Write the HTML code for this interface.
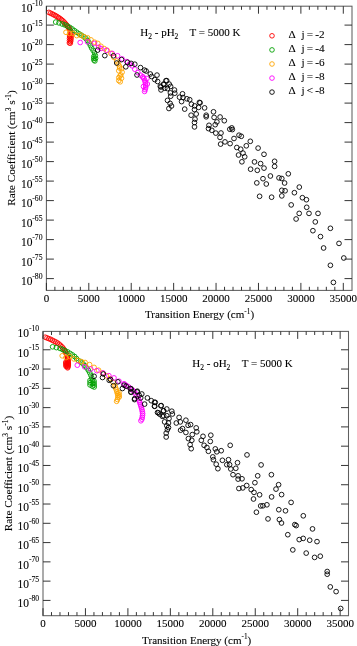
<!DOCTYPE html>
<html><head><meta charset="utf-8"><style>
html,body{margin:0;padding:0;background:#fff;}
body{width:357px;height:646px;overflow:hidden;}
svg{display:block;font-family:"Liberation Serif",serif;will-change:transform;}
text{fill:#000;stroke:#000;stroke-width:0.1px;}
</style></head><body>
<svg width="357" height="646" viewBox="0 0 357 646">
<g fill="none" stroke-width="0.9">
<circle cx="48.90" cy="12.40" r="2.35" stroke="#ff0000" stroke-width="0.9"/>
<circle cx="50.53" cy="13.16" r="2.35" stroke="#ff0000" stroke-width="0.9"/>
<circle cx="52.16" cy="13.93" r="2.35" stroke="#ff0000" stroke-width="0.9"/>
<circle cx="53.76" cy="14.75" r="2.35" stroke="#ff0000" stroke-width="0.9"/>
<circle cx="55.36" cy="15.57" r="2.35" stroke="#ff0000" stroke-width="0.9"/>
<circle cx="56.90" cy="16.51" r="2.35" stroke="#ff0000" stroke-width="0.9"/>
<circle cx="58.42" cy="17.48" r="2.35" stroke="#ff0000" stroke-width="0.9"/>
<circle cx="59.91" cy="18.47" r="2.35" stroke="#ff0000" stroke-width="0.9"/>
<circle cx="61.32" cy="19.60" r="2.35" stroke="#ff0000" stroke-width="0.9"/>
<circle cx="62.72" cy="20.72" r="2.35" stroke="#ff0000" stroke-width="0.9"/>
<circle cx="63.97" cy="22.02" r="2.35" stroke="#ff0000" stroke-width="0.9"/>
<circle cx="65.21" cy="23.33" r="2.35" stroke="#ff0000" stroke-width="0.9"/>
<circle cx="66.36" cy="24.71" r="2.35" stroke="#ff0000" stroke-width="0.9"/>
<circle cx="67.49" cy="26.11" r="2.35" stroke="#ff0000" stroke-width="0.9"/>
<circle cx="68.58" cy="27.54" r="2.35" stroke="#ff0000" stroke-width="0.9"/>
<circle cx="69.51" cy="29.08" r="2.35" stroke="#ff0000" stroke-width="0.9"/>
<circle cx="70.33" cy="30.68" r="2.35" stroke="#ff0000" stroke-width="0.9"/>
<circle cx="70.71" cy="32.42" r="2.35" stroke="#ff0000" stroke-width="0.9"/>
<circle cx="70.97" cy="34.20" r="2.35" stroke="#ff0000" stroke-width="0.9"/>
<circle cx="71.00" cy="36.00" r="2.35" stroke="#ff0000" stroke-width="0.9"/>
<circle cx="71.00" cy="37.80" r="2.35" stroke="#ff0000" stroke-width="0.9"/>
<circle cx="70.85" cy="39.59" r="2.35" stroke="#ff0000" stroke-width="0.9"/>
<circle cx="70.62" cy="41.38" r="2.35" stroke="#ff0000" stroke-width="0.9"/>
<circle cx="70.32" cy="43.15" r="2.35" stroke="#ff0000" stroke-width="0.9"/>
<circle cx="69.60" cy="36.00" r="2.35" stroke="#ff0000" stroke-width="0.9"/>
<circle cx="69.53" cy="38.30" r="2.35" stroke="#ff0000" stroke-width="0.9"/>
<circle cx="69.47" cy="40.60" r="2.35" stroke="#ff0000" stroke-width="0.9"/>
<circle cx="69.40" cy="42.90" r="2.35" stroke="#ff0000" stroke-width="0.9"/>
<circle cx="55.70" cy="22.10" r="2.35" stroke="#00a000"/>
<circle cx="59.00" cy="22.90" r="2.35" stroke="#00a000"/>
<circle cx="62.20" cy="24.00" r="2.35" stroke="#00a000" stroke-width="0.9"/>
<circle cx="64.84" cy="24.94" r="2.35" stroke="#00a000" stroke-width="0.9"/>
<circle cx="67.38" cy="26.11" r="2.35" stroke="#00a000" stroke-width="0.9"/>
<circle cx="69.86" cy="27.40" r="2.35" stroke="#00a000" stroke-width="0.9"/>
<circle cx="72.17" cy="28.98" r="2.35" stroke="#00a000" stroke-width="0.9"/>
<circle cx="74.42" cy="30.65" r="2.35" stroke="#00a000" stroke-width="0.9"/>
<circle cx="76.72" cy="32.24" r="2.35" stroke="#00a000" stroke-width="0.9"/>
<circle cx="79.05" cy="33.79" r="2.35" stroke="#00a000" stroke-width="0.9"/>
<circle cx="81.46" cy="35.22" r="2.35" stroke="#00a000" stroke-width="0.9"/>
<circle cx="83.74" cy="36.83" r="2.35" stroke="#00a000" stroke-width="0.9"/>
<circle cx="85.92" cy="38.59" r="2.35" stroke="#00a000" stroke-width="0.9"/>
<circle cx="87.79" cy="40.64" r="2.35" stroke="#00a000" stroke-width="0.9"/>
<circle cx="89.19" cy="43.05" r="2.35" stroke="#00a000" stroke-width="0.9"/>
<circle cx="90.39" cy="45.58" r="2.35" stroke="#00a000" stroke-width="0.9"/>
<circle cx="91.64" cy="48.08" r="2.35" stroke="#00a000" stroke-width="0.9"/>
<circle cx="93.15" cy="50.44" r="2.35" stroke="#00a000" stroke-width="0.9"/>
<circle cx="94.54" cy="52.86" r="2.35" stroke="#00a000" stroke-width="0.9"/>
<circle cx="95.34" cy="55.54" r="2.35" stroke="#00a000" stroke-width="0.9"/>
<circle cx="95.58" cy="58.25" r="2.35" stroke="#00a000" stroke-width="0.9"/>
<circle cx="94.87" cy="60.94" r="2.35" stroke="#00a000" stroke-width="0.9"/>
<circle cx="93.80" cy="56.50" r="2.35" stroke="#00a000" stroke-width="0.9"/>
<circle cx="93.87" cy="58.30" r="2.35" stroke="#00a000" stroke-width="0.9"/>
<circle cx="93.94" cy="60.10" r="2.35" stroke="#00a000" stroke-width="0.9"/>
<circle cx="66.00" cy="32.30" r="2.35" stroke="#ffa500"/>
<circle cx="69.60" cy="33.40" r="2.35" stroke="#ffa500"/>
<circle cx="73.20" cy="33.40" r="2.35" stroke="#ffa500"/>
<circle cx="76.70" cy="35.60" r="2.35" stroke="#ffa500"/>
<circle cx="80.50" cy="35.10" r="2.35" stroke="#ffa500"/>
<circle cx="83.90" cy="36.60" r="2.35" stroke="#ffa500"/>
<circle cx="87.60" cy="37.80" r="2.35" stroke="#ffa500"/>
<circle cx="91.00" cy="39.90" r="2.35" stroke="#ffa500"/>
<circle cx="94.60" cy="42.20" r="2.35" stroke="#ffa500"/>
<circle cx="97.80" cy="43.40" r="2.35" stroke="#ffa500"/>
<circle cx="101.00" cy="46.30" r="2.35" stroke="#ffa500"/>
<circle cx="104.20" cy="48.60" r="2.35" stroke="#ffa500"/>
<circle cx="107.20" cy="50.30" r="2.35" stroke="#ffa500"/>
<circle cx="110.90" cy="53.40" r="2.35" stroke="#ffa500"/>
<circle cx="114.00" cy="57.40" r="2.35" stroke="#ffa500"/>
<circle cx="116.60" cy="61.00" r="2.35" stroke="#ffa500"/>
<circle cx="118.20" cy="63.80" r="2.35" stroke="#ffa500"/>
<circle cx="119.40" cy="66.10" r="2.35" stroke="#ffa500"/>
<circle cx="121.50" cy="68.80" r="2.35" stroke="#ffa500"/>
<circle cx="118.80" cy="70.80" r="2.35" stroke="#ffa500"/>
<circle cx="122.10" cy="72.20" r="2.35" stroke="#ffa500"/>
<circle cx="120.80" cy="74.90" r="2.35" stroke="#ffa500"/>
<circle cx="118.80" cy="77.60" r="2.35" stroke="#ffa500"/>
<circle cx="121.50" cy="78.20" r="2.35" stroke="#ffa500"/>
<circle cx="118.80" cy="80.60" r="2.35" stroke="#ffa500"/>
<circle cx="120.20" cy="81.80" r="2.35" stroke="#ffa500"/>
<circle cx="119.60" cy="68.00" r="2.35" stroke="#ffa500"/>
<circle cx="120.00" cy="76.00" r="2.35" stroke="#ffa500"/>
<circle cx="80.20" cy="42.50" r="2.35" stroke="#ff00ff"/>
<circle cx="87.50" cy="41.80" r="2.35" stroke="#ff00ff"/>
<circle cx="94.30" cy="43.40" r="2.35" stroke="#ff00ff"/>
<circle cx="98.60" cy="47.30" r="2.35" stroke="#ff00ff"/>
<circle cx="101.00" cy="48.50" r="2.35" stroke="#ff00ff"/>
<circle cx="106.40" cy="50.30" r="2.35" stroke="#ff00ff"/>
<circle cx="112.20" cy="53.40" r="2.35" stroke="#ff00ff"/>
<circle cx="117.60" cy="55.80" r="2.35" stroke="#ff00ff"/>
<circle cx="122.10" cy="58.90" r="2.35" stroke="#ff00ff"/>
<circle cx="126.80" cy="61.60" r="2.35" stroke="#ff00ff"/>
<circle cx="129.50" cy="64.10" r="2.35" stroke="#ff00ff"/>
<circle cx="132.20" cy="65.80" r="2.35" stroke="#ff00ff"/>
<circle cx="134.80" cy="69.20" r="2.35" stroke="#ff00ff"/>
<circle cx="137.80" cy="72.60" r="2.35" stroke="#ff00ff"/>
<circle cx="140.60" cy="75.20" r="2.35" stroke="#ff00ff"/>
<circle cx="142.90" cy="77.00" r="2.35" stroke="#ff00ff"/>
<circle cx="142.90" cy="77.00" r="2.35" stroke="#ff00ff" stroke-width="0.9"/>
<circle cx="143.94" cy="78.59" r="2.35" stroke="#ff00ff" stroke-width="0.9"/>
<circle cx="144.77" cy="80.27" r="2.35" stroke="#ff00ff" stroke-width="0.9"/>
<circle cx="145.23" cy="82.12" r="2.35" stroke="#ff00ff" stroke-width="0.9"/>
<circle cx="145.53" cy="83.99" r="2.35" stroke="#ff00ff" stroke-width="0.9"/>
<circle cx="145.68" cy="85.88" r="2.35" stroke="#ff00ff" stroke-width="0.9"/>
<circle cx="145.61" cy="87.78" r="2.35" stroke="#ff00ff" stroke-width="0.9"/>
<circle cx="145.09" cy="89.60" r="2.35" stroke="#ff00ff" stroke-width="0.9"/>
<circle cx="144.59" cy="91.43" r="2.35" stroke="#ff00ff" stroke-width="0.9"/>
<circle cx="146.90" cy="78.50" r="2.35" stroke="#ff00ff"/>
<circle cx="147.30" cy="84.00" r="2.35" stroke="#ff00ff"/>
<circle cx="143.50" cy="86.50" r="2.35" stroke="#ff00ff"/>
<circle cx="97.60" cy="50.10" r="2.35" stroke="#000000"/>
<circle cx="104.80" cy="55.60" r="2.35" stroke="#000000"/>
<circle cx="113.50" cy="55.80" r="2.35" stroke="#000000"/>
<circle cx="116.70" cy="63.00" r="2.35" stroke="#000000"/>
<circle cx="121.50" cy="59.60" r="2.35" stroke="#000000"/>
<circle cx="125.80" cy="66.80" r="2.35" stroke="#000000"/>
<circle cx="127.50" cy="62.30" r="2.35" stroke="#000000"/>
<circle cx="131.10" cy="63.40" r="2.35" stroke="#000000"/>
<circle cx="134.80" cy="64.20" r="2.35" stroke="#000000"/>
<circle cx="137.00" cy="75.00" r="2.35" stroke="#000000"/>
<circle cx="140.50" cy="67.60" r="2.35" stroke="#000000"/>
<circle cx="144.40" cy="70.10" r="2.35" stroke="#000000"/>
<circle cx="146.10" cy="71.00" r="2.35" stroke="#000000"/>
<circle cx="150.30" cy="74.00" r="2.35" stroke="#000000"/>
<circle cx="151.70" cy="76.50" r="2.35" stroke="#000000"/>
<circle cx="157.00" cy="75.10" r="2.35" stroke="#000000"/>
<circle cx="154.80" cy="79.60" r="2.35" stroke="#000000"/>
<circle cx="157.60" cy="81.50" r="2.35" stroke="#000000"/>
<circle cx="166.70" cy="80.60" r="2.35" stroke="#000000"/>
<circle cx="163.90" cy="84.60" r="2.35" stroke="#000000"/>
<circle cx="161.00" cy="87.00" r="2.35" stroke="#000000"/>
<circle cx="164.80" cy="88.20" r="2.35" stroke="#000000"/>
<circle cx="170.60" cy="86.40" r="2.35" stroke="#000000"/>
<circle cx="174.50" cy="90.00" r="2.35" stroke="#000000"/>
<circle cx="170.40" cy="92.90" r="2.35" stroke="#000000"/>
<circle cx="174.80" cy="93.20" r="2.35" stroke="#000000"/>
<circle cx="170.70" cy="96.20" r="2.35" stroke="#000000"/>
<circle cx="167.50" cy="100.40" r="2.35" stroke="#000000"/>
<circle cx="170.10" cy="103.40" r="2.35" stroke="#000000"/>
<circle cx="171.50" cy="106.00" r="2.35" stroke="#000000"/>
<circle cx="168.90" cy="108.50" r="2.35" stroke="#000000"/>
<circle cx="182.50" cy="93.80" r="2.35" stroke="#000000"/>
<circle cx="179.50" cy="97.20" r="2.35" stroke="#000000"/>
<circle cx="183.00" cy="97.50" r="2.35" stroke="#000000"/>
<circle cx="181.60" cy="101.60" r="2.35" stroke="#000000"/>
<circle cx="186.90" cy="98.80" r="2.35" stroke="#000000"/>
<circle cx="189.70" cy="99.70" r="2.35" stroke="#000000"/>
<circle cx="191.40" cy="104.20" r="2.35" stroke="#000000"/>
<circle cx="194.70" cy="105.90" r="2.35" stroke="#000000"/>
<circle cx="199.40" cy="102.40" r="2.35" stroke="#000000"/>
<circle cx="198.60" cy="107.40" r="2.35" stroke="#000000"/>
<circle cx="184.70" cy="109.10" r="2.35" stroke="#000000"/>
<circle cx="161.00" cy="89.90" r="2.35" stroke="#000000"/>
<circle cx="160.30" cy="86.30" r="2.35" stroke="#000000"/>
<circle cx="163.60" cy="84.10" r="2.35" stroke="#000000"/>
<circle cx="165.90" cy="80.70" r="2.35" stroke="#000000"/>
<circle cx="167.50" cy="88.60" r="2.35" stroke="#000000"/>
<circle cx="169.20" cy="84.10" r="2.35" stroke="#000000"/>
<circle cx="194.50" cy="109.60" r="2.35" stroke="#000000"/>
<circle cx="191.10" cy="115.20" r="2.35" stroke="#000000"/>
<circle cx="196.20" cy="114.00" r="2.35" stroke="#000000"/>
<circle cx="195.00" cy="119.10" r="2.35" stroke="#000000"/>
<circle cx="194.50" cy="122.50" r="2.35" stroke="#000000"/>
<circle cx="194.50" cy="126.90" r="2.35" stroke="#000000"/>
<circle cx="206.20" cy="115.20" r="2.35" stroke="#000000"/>
<circle cx="206.20" cy="116.80" r="2.35" stroke="#000000"/>
<circle cx="213.50" cy="111.80" r="2.35" stroke="#000000"/>
<circle cx="214.10" cy="117.40" r="2.35" stroke="#000000"/>
<circle cx="220.10" cy="117.00" r="2.35" stroke="#000000"/>
<circle cx="224.30" cy="120.70" r="2.35" stroke="#000000"/>
<circle cx="216.90" cy="121.90" r="2.35" stroke="#000000"/>
<circle cx="215.20" cy="124.70" r="2.35" stroke="#000000"/>
<circle cx="209.00" cy="125.30" r="2.35" stroke="#000000"/>
<circle cx="208.50" cy="128.60" r="2.35" stroke="#000000"/>
<circle cx="211.80" cy="130.30" r="2.35" stroke="#000000"/>
<circle cx="215.80" cy="133.10" r="2.35" stroke="#000000"/>
<circle cx="221.00" cy="133.00" r="2.35" stroke="#000000"/>
<circle cx="229.80" cy="129.20" r="2.35" stroke="#000000"/>
<circle cx="204.60" cy="107.90" r="2.35" stroke="#000000"/>
<circle cx="200.10" cy="102.80" r="2.35" stroke="#000000"/>
<circle cx="231.80" cy="127.90" r="2.35" stroke="#000000"/>
<circle cx="232.30" cy="129.60" r="2.35" stroke="#000000"/>
<circle cx="220.00" cy="137.40" r="2.35" stroke="#000000"/>
<circle cx="239.00" cy="135.20" r="2.35" stroke="#000000"/>
<circle cx="241.30" cy="136.30" r="2.35" stroke="#000000"/>
<circle cx="234.00" cy="138.50" r="2.35" stroke="#000000"/>
<circle cx="225.00" cy="141.90" r="2.35" stroke="#000000"/>
<circle cx="230.10" cy="143.60" r="2.35" stroke="#000000"/>
<circle cx="220.60" cy="144.10" r="2.35" stroke="#000000"/>
<circle cx="250.30" cy="141.30" r="2.35" stroke="#000000"/>
<circle cx="246.30" cy="145.80" r="2.35" stroke="#000000"/>
<circle cx="236.80" cy="147.50" r="2.35" stroke="#000000"/>
<circle cx="240.70" cy="149.20" r="2.35" stroke="#000000"/>
<circle cx="243.00" cy="153.10" r="2.35" stroke="#000000"/>
<circle cx="238.50" cy="155.00" r="2.35" stroke="#000000"/>
<circle cx="258.10" cy="148.10" r="2.35" stroke="#000000"/>
<circle cx="244.70" cy="156.80" r="2.35" stroke="#000000"/>
<circle cx="241.90" cy="161.80" r="2.35" stroke="#000000"/>
<circle cx="264.00" cy="154.30" r="2.35" stroke="#000000"/>
<circle cx="254.50" cy="161.90" r="2.35" stroke="#000000"/>
<circle cx="260.60" cy="163.60" r="2.35" stroke="#000000"/>
<circle cx="264.00" cy="168.10" r="2.35" stroke="#000000"/>
<circle cx="250.60" cy="169.20" r="2.35" stroke="#000000"/>
<circle cx="257.30" cy="170.30" r="2.35" stroke="#000000"/>
<circle cx="274.60" cy="161.30" r="2.35" stroke="#000000"/>
<circle cx="274.60" cy="166.40" r="2.35" stroke="#000000"/>
<circle cx="270.40" cy="176.00" r="2.35" stroke="#000000"/>
<circle cx="288.30" cy="173.80" r="2.35" stroke="#000000"/>
<circle cx="263.00" cy="178.70" r="2.35" stroke="#000000"/>
<circle cx="256.80" cy="182.90" r="2.35" stroke="#000000"/>
<circle cx="266.30" cy="184.00" r="2.35" stroke="#000000"/>
<circle cx="259.60" cy="196.30" r="2.35" stroke="#000000"/>
<circle cx="271.60" cy="197.20" r="2.35" stroke="#000000"/>
<circle cx="279.00" cy="177.90" r="2.35" stroke="#000000"/>
<circle cx="281.80" cy="178.50" r="2.35" stroke="#000000"/>
<circle cx="284.60" cy="183.00" r="2.35" stroke="#000000"/>
<circle cx="281.80" cy="190.30" r="2.35" stroke="#000000"/>
<circle cx="285.10" cy="190.80" r="2.35" stroke="#000000"/>
<circle cx="281.80" cy="195.90" r="2.35" stroke="#000000"/>
<circle cx="294.40" cy="192.70" r="2.35" stroke="#000000"/>
<circle cx="299.30" cy="187.10" r="2.35" stroke="#000000"/>
<circle cx="302.40" cy="197.70" r="2.35" stroke="#000000"/>
<circle cx="306.40" cy="199.70" r="2.35" stroke="#000000"/>
<circle cx="291.20" cy="204.90" r="2.35" stroke="#000000"/>
<circle cx="306.70" cy="207.30" r="2.35" stroke="#000000"/>
<circle cx="299.20" cy="213.40" r="2.35" stroke="#000000"/>
<circle cx="309.00" cy="213.40" r="2.35" stroke="#000000"/>
<circle cx="318.00" cy="213.40" r="2.35" stroke="#000000"/>
<circle cx="296.10" cy="219.00" r="2.35" stroke="#000000"/>
<circle cx="315.30" cy="221.90" r="2.35" stroke="#000000"/>
<circle cx="312.90" cy="230.70" r="2.35" stroke="#000000"/>
<circle cx="330.40" cy="228.30" r="2.35" stroke="#000000"/>
<circle cx="320.50" cy="236.60" r="2.35" stroke="#000000"/>
<circle cx="339.00" cy="243.40" r="2.35" stroke="#000000"/>
<circle cx="323.60" cy="248.00" r="2.35" stroke="#000000"/>
<circle cx="343.80" cy="258.00" r="2.35" stroke="#000000"/>
<circle cx="330.40" cy="265.30" r="2.35" stroke="#000000"/>
<circle cx="333.40" cy="282.40" r="2.35" stroke="#000000"/>
<circle cx="45.20" cy="337.20" r="2.35" stroke="#ff0000" stroke-width="0.9"/>
<circle cx="47.01" cy="337.91" r="2.35" stroke="#ff0000" stroke-width="0.9"/>
<circle cx="48.83" cy="338.63" r="2.35" stroke="#ff0000" stroke-width="0.9"/>
<circle cx="50.64" cy="339.34" r="2.35" stroke="#ff0000" stroke-width="0.9"/>
<circle cx="52.37" cy="340.24" r="2.35" stroke="#ff0000" stroke-width="0.9"/>
<circle cx="54.11" cy="341.13" r="2.35" stroke="#ff0000" stroke-width="0.9"/>
<circle cx="55.87" cy="341.96" r="2.35" stroke="#ff0000" stroke-width="0.9"/>
<circle cx="57.51" cy="343.00" r="2.35" stroke="#ff0000" stroke-width="0.9"/>
<circle cx="59.10" cy="344.13" r="2.35" stroke="#ff0000" stroke-width="0.9"/>
<circle cx="60.54" cy="345.44" r="2.35" stroke="#ff0000" stroke-width="0.9"/>
<circle cx="61.95" cy="346.79" r="2.35" stroke="#ff0000" stroke-width="0.9"/>
<circle cx="63.18" cy="348.30" r="2.35" stroke="#ff0000" stroke-width="0.9"/>
<circle cx="64.30" cy="349.89" r="2.35" stroke="#ff0000" stroke-width="0.9"/>
<circle cx="65.26" cy="351.59" r="2.35" stroke="#ff0000" stroke-width="0.9"/>
<circle cx="66.09" cy="353.35" r="2.35" stroke="#ff0000" stroke-width="0.9"/>
<circle cx="66.84" cy="355.15" r="2.35" stroke="#ff0000" stroke-width="0.9"/>
<circle cx="67.34" cy="357.03" r="2.35" stroke="#ff0000" stroke-width="0.9"/>
<circle cx="67.60" cy="358.00" r="2.35" stroke="#ff0000" stroke-width="0.9"/>
<circle cx="67.73" cy="358.89" r="2.35" stroke="#ff0000" stroke-width="0.9"/>
<circle cx="67.85" cy="359.78" r="2.35" stroke="#ff0000" stroke-width="0.9"/>
<circle cx="67.98" cy="360.67" r="2.35" stroke="#ff0000" stroke-width="0.9"/>
<circle cx="68.10" cy="361.56" r="2.35" stroke="#ff0000" stroke-width="0.9"/>
<circle cx="68.13" cy="362.46" r="2.35" stroke="#ff0000" stroke-width="0.9"/>
<circle cx="68.15" cy="363.36" r="2.35" stroke="#ff0000" stroke-width="0.9"/>
<circle cx="68.18" cy="364.26" r="2.35" stroke="#ff0000" stroke-width="0.9"/>
<circle cx="68.17" cy="365.16" r="2.35" stroke="#ff0000" stroke-width="0.9"/>
<circle cx="67.99" cy="366.04" r="2.35" stroke="#ff0000" stroke-width="0.9"/>
<circle cx="67.82" cy="366.92" r="2.35" stroke="#ff0000" stroke-width="0.9"/>
<circle cx="67.64" cy="367.81" r="2.35" stroke="#ff0000" stroke-width="0.9"/>
<circle cx="66.00" cy="362.00" r="2.35" stroke="#ff0000" stroke-width="0.9"/>
<circle cx="66.04" cy="362.90" r="2.35" stroke="#ff0000" stroke-width="0.9"/>
<circle cx="66.07" cy="363.80" r="2.35" stroke="#ff0000" stroke-width="0.9"/>
<circle cx="66.11" cy="364.70" r="2.35" stroke="#ff0000" stroke-width="0.9"/>
<circle cx="66.14" cy="365.60" r="2.35" stroke="#ff0000" stroke-width="0.9"/>
<circle cx="66.18" cy="366.50" r="2.35" stroke="#ff0000" stroke-width="0.9"/>
<circle cx="52.60" cy="346.80" r="2.35" stroke="#00a000"/>
<circle cx="56.40" cy="347.60" r="2.35" stroke="#00a000"/>
<circle cx="60.00" cy="348.40" r="2.35" stroke="#00a000" stroke-width="0.9"/>
<circle cx="62.56" cy="349.53" r="2.35" stroke="#00a000" stroke-width="0.9"/>
<circle cx="65.11" cy="350.69" r="2.35" stroke="#00a000" stroke-width="0.9"/>
<circle cx="67.63" cy="351.92" r="2.35" stroke="#00a000" stroke-width="0.9"/>
<circle cx="70.03" cy="353.36" r="2.35" stroke="#00a000" stroke-width="0.9"/>
<circle cx="72.37" cy="354.89" r="2.35" stroke="#00a000" stroke-width="0.9"/>
<circle cx="74.63" cy="356.54" r="2.35" stroke="#00a000" stroke-width="0.9"/>
<circle cx="76.52" cy="358.60" r="2.35" stroke="#00a000" stroke-width="0.9"/>
<circle cx="78.55" cy="360.51" r="2.35" stroke="#00a000" stroke-width="0.9"/>
<circle cx="80.87" cy="362.08" r="2.35" stroke="#00a000" stroke-width="0.9"/>
<circle cx="83.05" cy="363.82" r="2.35" stroke="#00a000" stroke-width="0.9"/>
<circle cx="85.02" cy="365.80" r="2.35" stroke="#00a000" stroke-width="0.9"/>
<circle cx="86.83" cy="367.94" r="2.35" stroke="#00a000" stroke-width="0.9"/>
<circle cx="88.35" cy="370.29" r="2.35" stroke="#00a000" stroke-width="0.9"/>
<circle cx="89.73" cy="372.72" r="2.35" stroke="#00a000" stroke-width="0.9"/>
<circle cx="90.91" cy="375.25" r="2.35" stroke="#00a000" stroke-width="0.9"/>
<circle cx="91.77" cy="377.92" r="2.35" stroke="#00a000" stroke-width="0.9"/>
<circle cx="92.27" cy="380.67" r="2.35" stroke="#00a000" stroke-width="0.9"/>
<circle cx="92.52" cy="383.46" r="2.35" stroke="#00a000" stroke-width="0.9"/>
<circle cx="92.39" cy="386.24" r="2.35" stroke="#00a000" stroke-width="0.9"/>
<circle cx="90.00" cy="380.50" r="2.35" stroke="#00a000" stroke-width="0.9"/>
<circle cx="90.00" cy="382.70" r="2.35" stroke="#00a000" stroke-width="0.9"/>
<circle cx="90.00" cy="384.90" r="2.35" stroke="#00a000" stroke-width="0.9"/>
<circle cx="94.00" cy="381.00" r="2.35" stroke="#00a000" stroke-width="0.9"/>
<circle cx="94.07" cy="383.00" r="2.35" stroke="#00a000" stroke-width="0.9"/>
<circle cx="94.13" cy="385.00" r="2.35" stroke="#00a000" stroke-width="0.9"/>
<circle cx="94.20" cy="387.00" r="2.35" stroke="#00a000" stroke-width="0.9"/>
<circle cx="62.20" cy="355.80" r="2.35" stroke="#ffa500"/>
<circle cx="66.00" cy="357.60" r="2.35" stroke="#ffa500"/>
<circle cx="69.70" cy="356.40" r="2.35" stroke="#ffa500"/>
<circle cx="73.90" cy="358.90" r="2.35" stroke="#ffa500"/>
<circle cx="78.00" cy="360.40" r="2.35" stroke="#ffa500"/>
<circle cx="81.50" cy="361.60" r="2.35" stroke="#ffa500"/>
<circle cx="85.10" cy="362.50" r="2.35" stroke="#ffa500"/>
<circle cx="89.60" cy="364.60" r="2.35" stroke="#ffa500"/>
<circle cx="94.10" cy="367.40" r="2.35" stroke="#ffa500"/>
<circle cx="98.60" cy="370.20" r="2.35" stroke="#ffa500"/>
<circle cx="102.60" cy="373.20" r="2.35" stroke="#ffa500"/>
<circle cx="106.40" cy="375.80" r="2.35" stroke="#ffa500"/>
<circle cx="110.10" cy="378.60" r="2.35" stroke="#ffa500"/>
<circle cx="113.00" cy="382.30" r="2.35" stroke="#ffa500"/>
<circle cx="115.00" cy="386.00" r="2.35" stroke="#ffa500" stroke-width="0.9"/>
<circle cx="115.65" cy="387.89" r="2.35" stroke="#ffa500" stroke-width="0.9"/>
<circle cx="116.29" cy="389.79" r="2.35" stroke="#ffa500" stroke-width="0.9"/>
<circle cx="116.87" cy="391.70" r="2.35" stroke="#ffa500" stroke-width="0.9"/>
<circle cx="117.43" cy="393.62" r="2.35" stroke="#ffa500" stroke-width="0.9"/>
<circle cx="117.84" cy="395.58" r="2.35" stroke="#ffa500" stroke-width="0.9"/>
<circle cx="117.91" cy="397.53" r="2.35" stroke="#ffa500" stroke-width="0.9"/>
<circle cx="117.41" cy="399.46" r="2.35" stroke="#ffa500" stroke-width="0.9"/>
<circle cx="116.64" cy="401.31" r="2.35" stroke="#ffa500" stroke-width="0.9"/>
<circle cx="119.00" cy="392.50" r="2.35" stroke="#ffa500" stroke-width="0.9"/>
<circle cx="119.15" cy="394.70" r="2.35" stroke="#ffa500" stroke-width="0.9"/>
<circle cx="119.29" cy="396.89" r="2.35" stroke="#ffa500" stroke-width="0.9"/>
<circle cx="77.30" cy="365.20" r="2.35" stroke="#ff00ff"/>
<circle cx="84.60" cy="366.80" r="2.35" stroke="#ff00ff"/>
<circle cx="90.70" cy="369.00" r="2.35" stroke="#ff00ff"/>
<circle cx="96.90" cy="370.70" r="2.35" stroke="#ff00ff"/>
<circle cx="102.90" cy="372.90" r="2.35" stroke="#ff00ff"/>
<circle cx="108.90" cy="375.70" r="2.35" stroke="#ff00ff"/>
<circle cx="114.00" cy="377.90" r="2.35" stroke="#ff00ff"/>
<circle cx="119.00" cy="381.20" r="2.35" stroke="#ff00ff"/>
<circle cx="124.10" cy="384.00" r="2.35" stroke="#ff00ff"/>
<circle cx="124.10" cy="384.00" r="2.35" stroke="#ff00ff" stroke-width="0.9"/>
<circle cx="126.29" cy="385.40" r="2.35" stroke="#ff00ff" stroke-width="0.9"/>
<circle cx="128.48" cy="386.81" r="2.35" stroke="#ff00ff" stroke-width="0.9"/>
<circle cx="130.54" cy="388.38" r="2.35" stroke="#ff00ff" stroke-width="0.9"/>
<circle cx="132.52" cy="390.07" r="2.35" stroke="#ff00ff" stroke-width="0.9"/>
<circle cx="134.42" cy="391.82" r="2.35" stroke="#ff00ff" stroke-width="0.9"/>
<circle cx="135.71" cy="394.07" r="2.35" stroke="#ff00ff" stroke-width="0.9"/>
<circle cx="137.00" cy="396.33" r="2.35" stroke="#ff00ff" stroke-width="0.9"/>
<circle cx="138.18" cy="398.65" r="2.35" stroke="#ff00ff" stroke-width="0.9"/>
<circle cx="139.20" cy="400.70" r="2.35" stroke="#ff00ff" stroke-width="0.9"/>
<circle cx="139.80" cy="402.50" r="2.35" stroke="#ff00ff" stroke-width="0.9"/>
<circle cx="140.40" cy="404.30" r="2.35" stroke="#ff00ff" stroke-width="0.9"/>
<circle cx="140.95" cy="406.12" r="2.35" stroke="#ff00ff" stroke-width="0.9"/>
<circle cx="141.47" cy="407.95" r="2.35" stroke="#ff00ff" stroke-width="0.9"/>
<circle cx="141.99" cy="409.78" r="2.35" stroke="#ff00ff" stroke-width="0.9"/>
<circle cx="142.31" cy="411.65" r="2.35" stroke="#ff00ff" stroke-width="0.9"/>
<circle cx="142.62" cy="413.53" r="2.35" stroke="#ff00ff" stroke-width="0.9"/>
<circle cx="142.50" cy="415.40" r="2.35" stroke="#ff00ff" stroke-width="0.9"/>
<circle cx="142.23" cy="417.29" r="2.35" stroke="#ff00ff" stroke-width="0.9"/>
<circle cx="141.87" cy="419.13" r="2.35" stroke="#ff00ff" stroke-width="0.9"/>
<circle cx="140.92" cy="420.78" r="2.35" stroke="#ff00ff" stroke-width="0.9"/>
<circle cx="94.10" cy="376.30" r="2.35" stroke="#000000"/>
<circle cx="102.50" cy="377.50" r="2.35" stroke="#000000"/>
<circle cx="109.20" cy="380.30" r="2.35" stroke="#000000"/>
<circle cx="103.40" cy="374.00" r="2.35" stroke="#000000"/>
<circle cx="110.60" cy="379.60" r="2.35" stroke="#000000"/>
<circle cx="113.40" cy="385.70" r="2.35" stroke="#000000"/>
<circle cx="117.90" cy="381.80" r="2.35" stroke="#000000"/>
<circle cx="122.40" cy="388.50" r="2.35" stroke="#000000"/>
<circle cx="124.10" cy="385.20" r="2.35" stroke="#000000"/>
<circle cx="130.30" cy="388.50" r="2.35" stroke="#000000"/>
<circle cx="130.80" cy="391.90" r="2.35" stroke="#000000"/>
<circle cx="134.70" cy="398.60" r="2.35" stroke="#000000"/>
<circle cx="137.00" cy="391.90" r="2.35" stroke="#000000"/>
<circle cx="139.20" cy="395.30" r="2.35" stroke="#000000"/>
<circle cx="126.10" cy="386.20" r="2.35" stroke="#000000"/>
<circle cx="131.20" cy="389.00" r="2.35" stroke="#000000"/>
<circle cx="131.20" cy="392.30" r="2.35" stroke="#000000"/>
<circle cx="137.30" cy="391.20" r="2.35" stroke="#000000"/>
<circle cx="134.50" cy="399.60" r="2.35" stroke="#000000"/>
<circle cx="141.80" cy="394.00" r="2.35" stroke="#000000"/>
<circle cx="140.70" cy="397.90" r="2.35" stroke="#000000"/>
<circle cx="147.40" cy="397.90" r="2.35" stroke="#000000"/>
<circle cx="144.60" cy="404.10" r="2.35" stroke="#000000"/>
<circle cx="151.30" cy="400.70" r="2.35" stroke="#000000"/>
<circle cx="155.30" cy="402.40" r="2.35" stroke="#000000"/>
<circle cx="154.70" cy="406.30" r="2.35" stroke="#000000"/>
<circle cx="160.90" cy="405.80" r="2.35" stroke="#000000"/>
<circle cx="157.50" cy="412.50" r="2.35" stroke="#000000"/>
<circle cx="159.70" cy="414.20" r="2.35" stroke="#000000"/>
<circle cx="163.70" cy="410.80" r="2.35" stroke="#000000"/>
<circle cx="163.70" cy="415.90" r="2.35" stroke="#000000"/>
<circle cx="154.50" cy="402.30" r="2.35" stroke="#000000"/>
<circle cx="154.50" cy="406.20" r="2.35" stroke="#000000"/>
<circle cx="161.20" cy="405.60" r="2.35" stroke="#000000"/>
<circle cx="166.80" cy="409.00" r="2.35" stroke="#000000"/>
<circle cx="163.40" cy="410.70" r="2.35" stroke="#000000"/>
<circle cx="158.40" cy="412.90" r="2.35" stroke="#000000"/>
<circle cx="171.80" cy="411.20" r="2.35" stroke="#000000"/>
<circle cx="172.40" cy="414.00" r="2.35" stroke="#000000"/>
<circle cx="166.80" cy="415.70" r="2.35" stroke="#000000"/>
<circle cx="162.30" cy="416.30" r="2.35" stroke="#000000"/>
<circle cx="169.00" cy="418.50" r="2.35" stroke="#000000"/>
<circle cx="164.60" cy="421.90" r="2.35" stroke="#000000"/>
<circle cx="168.50" cy="423.00" r="2.35" stroke="#000000"/>
<circle cx="166.80" cy="425.80" r="2.35" stroke="#000000"/>
<circle cx="168.50" cy="427.50" r="2.35" stroke="#000000"/>
<circle cx="167.40" cy="429.70" r="2.35" stroke="#000000"/>
<circle cx="166.20" cy="433.10" r="2.35" stroke="#000000"/>
<circle cx="166.20" cy="437.00" r="2.35" stroke="#000000"/>
<circle cx="179.10" cy="417.40" r="2.35" stroke="#000000"/>
<circle cx="176.30" cy="423.00" r="2.35" stroke="#000000"/>
<circle cx="180.30" cy="421.90" r="2.35" stroke="#000000"/>
<circle cx="185.90" cy="420.20" r="2.35" stroke="#000000"/>
<circle cx="182.50" cy="428.60" r="2.35" stroke="#000000"/>
<circle cx="188.10" cy="425.30" r="2.35" stroke="#000000"/>
<circle cx="185.90" cy="432.50" r="2.35" stroke="#000000"/>
<circle cx="190.60" cy="424.60" r="2.35" stroke="#000000"/>
<circle cx="180.60" cy="430.20" r="2.35" stroke="#000000"/>
<circle cx="196.20" cy="427.90" r="2.35" stroke="#000000"/>
<circle cx="192.30" cy="434.60" r="2.35" stroke="#000000"/>
<circle cx="196.80" cy="431.80" r="2.35" stroke="#000000"/>
<circle cx="188.40" cy="438.60" r="2.35" stroke="#000000"/>
<circle cx="191.80" cy="440.30" r="2.35" stroke="#000000"/>
<circle cx="190.10" cy="444.70" r="2.35" stroke="#000000"/>
<circle cx="191.20" cy="448.70" r="2.35" stroke="#000000"/>
<circle cx="203.00" cy="436.30" r="2.35" stroke="#000000"/>
<circle cx="201.30" cy="440.30" r="2.35" stroke="#000000"/>
<circle cx="210.80" cy="435.20" r="2.35" stroke="#000000"/>
<circle cx="210.30" cy="441.40" r="2.35" stroke="#000000"/>
<circle cx="204.10" cy="445.30" r="2.35" stroke="#000000"/>
<circle cx="206.90" cy="447.50" r="2.35" stroke="#000000"/>
<circle cx="215.30" cy="448.90" r="2.35" stroke="#000000"/>
<circle cx="208.40" cy="451.30" r="2.35" stroke="#000000"/>
<circle cx="216.80" cy="451.80" r="2.35" stroke="#000000"/>
<circle cx="221.20" cy="450.70" r="2.35" stroke="#000000"/>
<circle cx="212.80" cy="456.90" r="2.35" stroke="#000000"/>
<circle cx="213.40" cy="459.70" r="2.35" stroke="#000000"/>
<circle cx="216.20" cy="464.20" r="2.35" stroke="#000000"/>
<circle cx="217.90" cy="468.70" r="2.35" stroke="#000000"/>
<circle cx="230.20" cy="445.30" r="2.35" stroke="#000000"/>
<circle cx="222.40" cy="460.30" r="2.35" stroke="#000000"/>
<circle cx="228.50" cy="459.70" r="2.35" stroke="#000000"/>
<circle cx="226.80" cy="464.70" r="2.35" stroke="#000000"/>
<circle cx="229.60" cy="464.70" r="2.35" stroke="#000000"/>
<circle cx="237.50" cy="462.70" r="2.35" stroke="#000000"/>
<circle cx="235.80" cy="468.30" r="2.35" stroke="#000000"/>
<circle cx="230.80" cy="469.00" r="2.35" stroke="#000000"/>
<circle cx="247.00" cy="454.90" r="2.35" stroke="#000000"/>
<circle cx="233.00" cy="474.70" r="2.35" stroke="#000000"/>
<circle cx="238.10" cy="475.80" r="2.35" stroke="#000000"/>
<circle cx="238.10" cy="479.10" r="2.35" stroke="#000000"/>
<circle cx="242.00" cy="478.80" r="2.35" stroke="#000000"/>
<circle cx="261.10" cy="464.90" r="2.35" stroke="#000000"/>
<circle cx="257.70" cy="475.80" r="2.35" stroke="#000000"/>
<circle cx="254.90" cy="482.70" r="2.35" stroke="#000000"/>
<circle cx="271.40" cy="474.70" r="2.35" stroke="#000000"/>
<circle cx="238.90" cy="488.50" r="2.35" stroke="#000000"/>
<circle cx="242.80" cy="487.90" r="2.35" stroke="#000000"/>
<circle cx="246.70" cy="485.50" r="2.35" stroke="#000000"/>
<circle cx="251.20" cy="489.60" r="2.35" stroke="#000000"/>
<circle cx="254.00" cy="492.40" r="2.35" stroke="#000000"/>
<circle cx="259.60" cy="494.80" r="2.35" stroke="#000000"/>
<circle cx="253.50" cy="499.00" r="2.35" stroke="#000000"/>
<circle cx="271.60" cy="496.90" r="2.35" stroke="#000000"/>
<circle cx="260.70" cy="505.90" r="2.35" stroke="#000000"/>
<circle cx="262.90" cy="505.80" r="2.35" stroke="#000000"/>
<circle cx="266.90" cy="504.80" r="2.35" stroke="#000000"/>
<circle cx="256.40" cy="512.20" r="2.35" stroke="#000000"/>
<circle cx="278.60" cy="484.70" r="2.35" stroke="#000000"/>
<circle cx="276.00" cy="489.10" r="2.35" stroke="#000000"/>
<circle cx="281.60" cy="494.60" r="2.35" stroke="#000000"/>
<circle cx="291.10" cy="502.40" r="2.35" stroke="#000000"/>
<circle cx="278.80" cy="509.70" r="2.35" stroke="#000000"/>
<circle cx="285.50" cy="510.80" r="2.35" stroke="#000000"/>
<circle cx="268.00" cy="518.90" r="2.35" stroke="#000000"/>
<circle cx="279.40" cy="519.60" r="2.35" stroke="#000000"/>
<circle cx="281.50" cy="523.00" r="2.35" stroke="#000000"/>
<circle cx="303.30" cy="515.80" r="2.35" stroke="#000000"/>
<circle cx="294.80" cy="524.60" r="2.35" stroke="#000000"/>
<circle cx="296.20" cy="525.60" r="2.35" stroke="#000000"/>
<circle cx="312.50" cy="528.90" r="2.35" stroke="#000000"/>
<circle cx="287.80" cy="534.70" r="2.35" stroke="#000000"/>
<circle cx="299.20" cy="539.60" r="2.35" stroke="#000000"/>
<circle cx="303.20" cy="538.40" r="2.35" stroke="#000000"/>
<circle cx="309.70" cy="540.20" r="2.35" stroke="#000000"/>
<circle cx="317.00" cy="541.60" r="2.35" stroke="#000000"/>
<circle cx="292.80" cy="549.90" r="2.35" stroke="#000000"/>
<circle cx="306.20" cy="553.10" r="2.35" stroke="#000000"/>
<circle cx="314.60" cy="557.40" r="2.35" stroke="#000000"/>
<circle cx="320.30" cy="556.20" r="2.35" stroke="#000000"/>
<circle cx="327.20" cy="571.50" r="2.35" stroke="#000000"/>
<circle cx="327.20" cy="574.20" r="2.35" stroke="#000000"/>
<circle cx="330.30" cy="586.90" r="2.35" stroke="#000000"/>
<circle cx="336.10" cy="591.60" r="2.35" stroke="#000000"/>
<circle cx="340.70" cy="608.50" r="2.35" stroke="#000000"/>
</g>
<rect x="46.4" y="6.2" width="305.60" height="284.20" stroke="#606060" stroke-width="1.05" fill="none"/>
<path d="M46.40 290.4v-7.5M46.40 6.2v7.5M54.88 290.4v-3.6M54.88 6.2v3.6M63.37 290.4v-3.6M63.37 6.2v3.6M71.85 290.4v-3.6M71.85 6.2v3.6M80.33 290.4v-3.6M80.33 6.2v3.6M88.81 290.4v-7.5M88.81 6.2v7.5M97.30 290.4v-3.6M97.30 6.2v3.6M105.78 290.4v-3.6M105.78 6.2v3.6M114.26 290.4v-3.6M114.26 6.2v3.6M122.75 290.4v-3.6M122.75 6.2v3.6M131.23 290.4v-7.5M131.23 6.2v7.5M139.71 290.4v-3.6M139.71 6.2v3.6M148.20 290.4v-3.6M148.20 6.2v3.6M156.68 290.4v-3.6M156.68 6.2v3.6M165.16 290.4v-3.6M165.16 6.2v3.6M173.65 290.4v-7.5M173.65 6.2v7.5M182.13 290.4v-3.6M182.13 6.2v3.6M190.61 290.4v-3.6M190.61 6.2v3.6M199.09 290.4v-3.6M199.09 6.2v3.6M207.58 290.4v-3.6M207.58 6.2v3.6M216.06 290.4v-7.5M216.06 6.2v7.5M224.54 290.4v-3.6M224.54 6.2v3.6M233.03 290.4v-3.6M233.03 6.2v3.6M241.51 290.4v-3.6M241.51 6.2v3.6M249.99 290.4v-3.6M249.99 6.2v3.6M258.48 290.4v-7.5M258.48 6.2v7.5M266.96 290.4v-3.6M266.96 6.2v3.6M275.44 290.4v-3.6M275.44 6.2v3.6M283.92 290.4v-3.6M283.92 6.2v3.6M292.41 290.4v-3.6M292.41 6.2v3.6M300.89 290.4v-7.5M300.89 6.2v7.5M309.37 290.4v-3.6M309.37 6.2v3.6M317.86 290.4v-3.6M317.86 6.2v3.6M326.34 290.4v-3.6M326.34 6.2v3.6M334.82 290.4v-3.6M334.82 6.2v3.6M343.31 290.4v-7.5M343.31 6.2v7.5M46.4 25.10h7.5M352.0 25.10h-7.5M46.4 44.60h7.5M352.0 44.60h-7.5M46.4 64.10h7.5M352.0 64.10h-7.5M46.4 83.60h7.5M352.0 83.60h-7.5M46.4 103.10h7.5M352.0 103.10h-7.5M46.4 122.60h7.5M352.0 122.60h-7.5M46.4 142.10h7.5M352.0 142.10h-7.5M46.4 161.60h7.5M352.0 161.60h-7.5M46.4 181.10h7.5M352.0 181.10h-7.5M46.4 200.60h7.5M352.0 200.60h-7.5M46.4 220.10h7.5M352.0 220.10h-7.5M46.4 239.60h7.5M352.0 239.60h-7.5M46.4 259.10h7.5M352.0 259.10h-7.5M46.4 278.60h7.5M352.0 278.60h-7.5" stroke="#2a2a2a" stroke-width="0.95" fill="none"/>
<text x="46.40" y="302.1" text-anchor="middle" font-size="11">0</text>
<text x="88.81" y="302.1" text-anchor="middle" font-size="11">5000</text>
<text x="131.23" y="302.1" text-anchor="middle" font-size="11">10000</text>
<text x="173.65" y="302.1" text-anchor="middle" font-size="11">15000</text>
<text x="216.06" y="302.1" text-anchor="middle" font-size="11">20000</text>
<text x="258.48" y="302.1" text-anchor="middle" font-size="11">25000</text>
<text x="300.89" y="302.1" text-anchor="middle" font-size="11">30000</text>
<text x="343.31" y="302.1" text-anchor="middle" font-size="11">35000</text>
<text x="32.40" y="12.40" text-anchor="end" font-size="11.5">10</text>
<text x="32.30" y="6.20" font-size="7.7">-10</text>
<text x="32.40" y="31.90" text-anchor="end" font-size="11.5">10</text>
<text x="32.30" y="25.70" font-size="7.7">-15</text>
<text x="32.40" y="51.40" text-anchor="end" font-size="11.5">10</text>
<text x="32.30" y="45.20" font-size="7.7">-20</text>
<text x="32.40" y="70.90" text-anchor="end" font-size="11.5">10</text>
<text x="32.30" y="64.70" font-size="7.7">-25</text>
<text x="32.40" y="90.40" text-anchor="end" font-size="11.5">10</text>
<text x="32.30" y="84.20" font-size="7.7">-30</text>
<text x="32.40" y="109.90" text-anchor="end" font-size="11.5">10</text>
<text x="32.30" y="103.70" font-size="7.7">-35</text>
<text x="32.40" y="129.40" text-anchor="end" font-size="11.5">10</text>
<text x="32.30" y="123.20" font-size="7.7">-40</text>
<text x="32.40" y="148.90" text-anchor="end" font-size="11.5">10</text>
<text x="32.30" y="142.70" font-size="7.7">-45</text>
<text x="32.40" y="168.40" text-anchor="end" font-size="11.5">10</text>
<text x="32.30" y="162.20" font-size="7.7">-50</text>
<text x="32.40" y="187.90" text-anchor="end" font-size="11.5">10</text>
<text x="32.30" y="181.70" font-size="7.7">-55</text>
<text x="32.40" y="207.40" text-anchor="end" font-size="11.5">10</text>
<text x="32.30" y="201.20" font-size="7.7">-60</text>
<text x="32.40" y="226.90" text-anchor="end" font-size="11.5">10</text>
<text x="32.30" y="220.70" font-size="7.7">-65</text>
<text x="32.40" y="246.40" text-anchor="end" font-size="11.5">10</text>
<text x="32.30" y="240.20" font-size="7.7">-70</text>
<text x="32.40" y="265.90" text-anchor="end" font-size="11.5">10</text>
<text x="32.30" y="259.70" font-size="7.7">-75</text>
<text x="32.40" y="285.40" text-anchor="end" font-size="11.5">10</text>
<text x="32.30" y="279.20" font-size="7.7">-80</text>
<rect x="43.0" y="331.4" width="305.50" height="284.30" stroke="#606060" stroke-width="1.05" fill="none"/>
<path d="M43.00 615.7v-7.5M43.00 331.4v7.5M51.49 615.7v-3.6M51.49 331.4v3.6M59.98 615.7v-3.6M59.98 331.4v3.6M68.47 615.7v-3.6M68.47 331.4v3.6M76.96 615.7v-3.6M76.96 331.4v3.6M85.45 615.7v-7.5M85.45 331.4v7.5M93.94 615.7v-3.6M93.94 331.4v3.6M102.43 615.7v-3.6M102.43 331.4v3.6M110.92 615.7v-3.6M110.92 331.4v3.6M119.41 615.7v-3.6M119.41 331.4v3.6M127.90 615.7v-7.5M127.90 331.4v7.5M136.39 615.7v-3.6M136.39 331.4v3.6M144.88 615.7v-3.6M144.88 331.4v3.6M153.37 615.7v-3.6M153.37 331.4v3.6M161.86 615.7v-3.6M161.86 331.4v3.6M170.35 615.7v-7.5M170.35 331.4v7.5M178.84 615.7v-3.6M178.84 331.4v3.6M187.33 615.7v-3.6M187.33 331.4v3.6M195.82 615.7v-3.6M195.82 331.4v3.6M204.31 615.7v-3.6M204.31 331.4v3.6M212.80 615.7v-7.5M212.80 331.4v7.5M221.29 615.7v-3.6M221.29 331.4v3.6M229.78 615.7v-3.6M229.78 331.4v3.6M238.27 615.7v-3.6M238.27 331.4v3.6M246.76 615.7v-3.6M246.76 331.4v3.6M255.25 615.7v-7.5M255.25 331.4v7.5M263.74 615.7v-3.6M263.74 331.4v3.6M272.23 615.7v-3.6M272.23 331.4v3.6M280.72 615.7v-3.6M280.72 331.4v3.6M289.21 615.7v-3.6M289.21 331.4v3.6M297.70 615.7v-7.5M297.70 331.4v7.5M306.19 615.7v-3.6M306.19 331.4v3.6M314.68 615.7v-3.6M314.68 331.4v3.6M323.17 615.7v-3.6M323.17 331.4v3.6M331.66 615.7v-3.6M331.66 331.4v3.6M340.15 615.7v-7.5M340.15 331.4v7.5M43.0 349.78h7.5M348.5 349.78h-7.5M43.0 369.06h7.5M348.5 369.06h-7.5M43.0 388.34h7.5M348.5 388.34h-7.5M43.0 407.62h7.5M348.5 407.62h-7.5M43.0 426.90h7.5M348.5 426.90h-7.5M43.0 446.18h7.5M348.5 446.18h-7.5M43.0 465.46h7.5M348.5 465.46h-7.5M43.0 484.74h7.5M348.5 484.74h-7.5M43.0 504.02h7.5M348.5 504.02h-7.5M43.0 523.30h7.5M348.5 523.30h-7.5M43.0 542.58h7.5M348.5 542.58h-7.5M43.0 561.86h7.5M348.5 561.86h-7.5M43.0 581.14h7.5M348.5 581.14h-7.5M43.0 600.42h7.5M348.5 600.42h-7.5" stroke="#2a2a2a" stroke-width="0.95" fill="none"/>
<text x="43.00" y="627.3" text-anchor="middle" font-size="11">0</text>
<text x="85.45" y="627.3" text-anchor="middle" font-size="11">5000</text>
<text x="127.90" y="627.3" text-anchor="middle" font-size="11">10000</text>
<text x="170.35" y="627.3" text-anchor="middle" font-size="11">15000</text>
<text x="212.80" y="627.3" text-anchor="middle" font-size="11">20000</text>
<text x="255.25" y="627.3" text-anchor="middle" font-size="11">25000</text>
<text x="297.70" y="627.3" text-anchor="middle" font-size="11">30000</text>
<text x="340.15" y="627.3" text-anchor="middle" font-size="11">35000</text>
<text x="29.00" y="337.30" text-anchor="end" font-size="11.5">10</text>
<text x="28.90" y="331.10" font-size="7.7">-10</text>
<text x="29.00" y="356.58" text-anchor="end" font-size="11.5">10</text>
<text x="28.90" y="350.38" font-size="7.7">-15</text>
<text x="29.00" y="375.86" text-anchor="end" font-size="11.5">10</text>
<text x="28.90" y="369.66" font-size="7.7">-20</text>
<text x="29.00" y="395.14" text-anchor="end" font-size="11.5">10</text>
<text x="28.90" y="388.94" font-size="7.7">-25</text>
<text x="29.00" y="414.42" text-anchor="end" font-size="11.5">10</text>
<text x="28.90" y="408.22" font-size="7.7">-30</text>
<text x="29.00" y="433.70" text-anchor="end" font-size="11.5">10</text>
<text x="28.90" y="427.50" font-size="7.7">-35</text>
<text x="29.00" y="452.98" text-anchor="end" font-size="11.5">10</text>
<text x="28.90" y="446.78" font-size="7.7">-40</text>
<text x="29.00" y="472.26" text-anchor="end" font-size="11.5">10</text>
<text x="28.90" y="466.06" font-size="7.7">-45</text>
<text x="29.00" y="491.54" text-anchor="end" font-size="11.5">10</text>
<text x="28.90" y="485.34" font-size="7.7">-50</text>
<text x="29.00" y="510.82" text-anchor="end" font-size="11.5">10</text>
<text x="28.90" y="504.62" font-size="7.7">-55</text>
<text x="29.00" y="530.10" text-anchor="end" font-size="11.5">10</text>
<text x="28.90" y="523.90" font-size="7.7">-60</text>
<text x="29.00" y="549.38" text-anchor="end" font-size="11.5">10</text>
<text x="28.90" y="543.18" font-size="7.7">-65</text>
<text x="29.00" y="568.66" text-anchor="end" font-size="11.5">10</text>
<text x="28.90" y="562.46" font-size="7.7">-70</text>
<text x="29.00" y="587.94" text-anchor="end" font-size="11.5">10</text>
<text x="28.90" y="581.74" font-size="7.7">-75</text>
<text x="29.00" y="607.22" text-anchor="end" font-size="11.5">10</text>
<text x="28.90" y="601.02" font-size="7.7">-80</text>
<!-- titles -->
<text x="140.3" y="35.7" font-size="11">H<tspan font-size="7.5" dy="3">2</tspan><tspan dy="-3"> - pH</tspan><tspan font-size="7.5" dy="3">2</tspan><tspan dy="-3" x="189.5">T = 5000 K</tspan></text>
<text x="192.3" y="366.8" font-size="11">H<tspan font-size="7.5" dy="3">2</tspan><tspan dy="-3"> - oH</tspan><tspan font-size="7.5" dy="3">2</tspan><tspan dy="-3" x="241.8">T = 5000 K</tspan></text>
<!-- legend -->
<g fill="none" stroke-width="0.9">
<circle cx="272.0" cy="35.8" r="2.3" stroke="#ff0000"/>
<circle cx="272.0" cy="49.9" r="2.3" stroke="#00a000"/>
<circle cx="272.0" cy="64.0" r="2.3" stroke="#ffa500"/>
<circle cx="272.0" cy="78.1" r="2.3" stroke="#ff00ff"/>
<circle cx="272.0" cy="92.1" r="2.3" stroke="#000000"/>
</g>
<g font-size="11.2">
<text x="288.6" y="38.20">&#916;</text><text x="301.5" y="38.20">j</text><text x="306.8" y="38.20">=</text><text x="315.2" y="38.20">-2</text>
<text x="288.6" y="52.27">&#916;</text><text x="301.5" y="52.27">j</text><text x="306.8" y="52.27">=</text><text x="315.2" y="52.27">-4</text>
<text x="288.6" y="66.34">&#916;</text><text x="301.5" y="66.34">j</text><text x="306.8" y="66.34">=</text><text x="315.2" y="66.34">-6</text>
<text x="288.6" y="80.41">&#916;</text><text x="301.5" y="80.41">j</text><text x="306.8" y="80.41">=</text><text x="315.2" y="80.41">-8</text>
<text x="288.6" y="94.48">&#916;</text><text x="301.5" y="94.48">j</text><text x="306.8" y="94.48">&lt;</text><text x="315.2" y="94.48">-8</text>
</g>
<!-- axis titles -->
<text transform="translate(144.9,318.3) scale(0.97,1)" font-size="11.4">Transition Energy (cm<tspan font-size="7.5" dy="-4.5">-1</tspan><tspan dy="4.5">)</tspan></text>
<text transform="translate(142.1,643.5) scale(0.97,1)" font-size="11.4">Transition Energy (cm<tspan font-size="7.5" dy="-4.5">-1</tspan><tspan dy="4.5">)</tspan></text>
<text transform="translate(15.3,148.1) rotate(-90)" text-anchor="middle" font-size="11.3">Rate Coefficient (cm<tspan font-size="7.5" dy="-4.5">3</tspan><tspan dy="4.5"> s</tspan><tspan font-size="7.5" dy="-4.5">-1</tspan><tspan dy="4.5">)</tspan></text>
<text transform="translate(12.1,473.5) rotate(-90)" text-anchor="middle" font-size="11.3">Rate Coefficient (cm<tspan font-size="7.5" dy="-4.5">3</tspan><tspan dy="4.5"> s</tspan><tspan font-size="7.5" dy="-4.5">-1</tspan><tspan dy="4.5">)</tspan></text>
</svg>
</body></html>
